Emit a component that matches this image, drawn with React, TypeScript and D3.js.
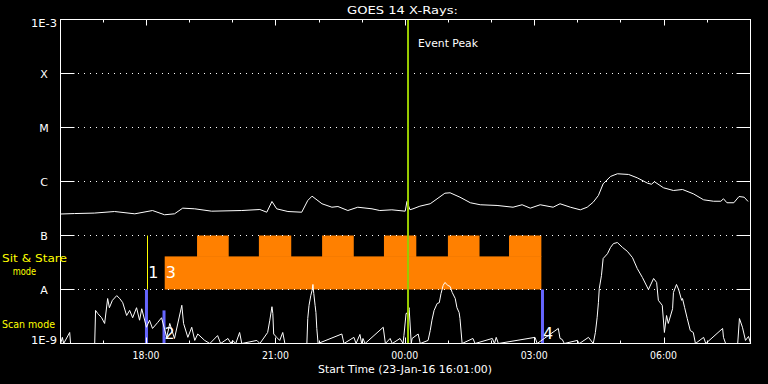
import React, { useEffect } from "react";
import * as d3 from "d3";

const W = 768;
const H = 384;

const startTime = Date.UTC(2016, 0, 23, 16, 1);
const endTime = Date.UTC(2016, 0, 24, 8, 1);
const dayStart = Date.UTC(2016, 0, 23, 0, 0);

const levelValues = [1e-9, 1e-8, 1e-7, 1e-6, 1e-5, 1e-4, 1e-3];
const levelLabels = ["1E-9", "A", "B", "C", "M", "X", "1E-3"];
const gridLevels = [1e-8, 1e-7, 1e-6, 1e-5, 1e-4];

// hours after 23-Jan-16 00:00 UT, flux in W/m^2
const longChannel: [number, number][] = [
  [16.02, 2.5e-7], [16.34, 2.55e-7], [16.8, 2.6e-7], [17.27, 2.78e-7], [17.74, 2.52e-7],
  [18.15, 2.9e-7], [18.43, 2.42e-7], [18.66, 2.52e-7], [18.85, 3.21e-7], [19.13, 3.12e-7],
  [19.52, 2.82e-7], [20.22, 2.9e-7], [20.64, 3.03e-7], [20.8, 2.7e-7], [20.92, 4.27e-7],
  [21.03, 3.12e-7], [21.29, 2.78e-7], [21.61, 2.7e-7], [21.75, 4.45e-7], [21.85, 5.35e-7],
  [22.08, 3.87e-7], [22.31, 3.34e-7], [22.45, 3.44e-7], [22.68, 2.9e-7], [22.91, 3.34e-7],
  [23.24, 3.12e-7], [23.42, 2.9e-7], [23.7, 2.99e-7], [24.01, 2.82e-7], [24.05, 4.27e-7],
  [24.12, 3.0e-7], [24.19, 3.12e-7], [24.35, 3.49e-7], [24.59, 3.87e-7], [24.77, 4.91e-7],
  [24.93, 6.07e-7], [25.05, 6.18e-7], [25.28, 5.12e-7], [25.52, 4.04e-7], [25.75, 3.71e-7],
  [26.14, 3.6e-7], [26.51, 3.34e-7], [26.72, 3.71e-7], [26.91, 3.21e-7], [27.14, 3.71e-7],
  [27.44, 3.34e-7], [27.6, 3.87e-7], [27.84, 3.34e-7], [28.07, 2.99e-7], [28.23, 3.34e-7],
  [28.37, 4.14e-7], [28.49, 5.51e-7], [28.6, 9.06e-7], [28.77, 1.24e-6], [28.93, 1.39e-6],
  [29.19, 1.35e-6], [29.39, 1.17e-6], [29.63, 9.3e-7], [29.72, 8.9e-7], [29.79, 9.9e-7],
  [30.0, 7.65e-7], [30.23, 6.81e-7], [30.44, 7.11e-7], [30.69, 5.92e-7], [30.93, 4.58e-7],
  [31.16, 4.31e-7], [31.33, 4.31e-7], [31.39, 4.79e-7], [31.47, 4.04e-7], [31.63, 4.04e-7],
  [31.75, 5.27e-7], [31.87, 5.12e-7], [31.96, 4.27e-7],
];

const shortChannel: [number, number][] = [
  [16.02, 1e-9], [16.06, 1.3e-9], [16.09, 1e-9], [16.23, 1.6e-9], [16.25, 1e-9], [16.81, 1e-9],
  [16.83, 4.1e-9], [16.88, 3.6e-9], [16.97, 3.0e-9], [17.04, 2.35e-9], [17.11, 6.8e-9],
  [17.15, 4.6e-9], [17.22, 6.3e-9], [17.32, 7.7e-9], [17.39, 6.8e-9], [17.46, 5.7e-9],
  [17.55, 3.3e-9], [17.62, 4.1e-9], [17.69, 3.0e-9], [17.78, 4.6e-9], [17.85, 2.7e-9],
  [17.9, 4.4e-9], [18.01, 2.0e-9], [18.08, 2.7e-9], [18.15, 1.9e-9], [18.27, 2.45e-9],
  [18.36, 3.0e-9], [18.48, 1.3e-9], [18.55, 2.35e-9], [18.66, 1.24e-9], [18.83, 5.1e-9],
  [18.87, 2.35e-9], [18.97, 1.3e-9], [19.06, 2.0e-9], [19.13, 1.14e-9], [19.2, 1.5e-9],
  [19.36, 1.14e-9], [19.48, 1e-9], [19.66, 1.4e-9], [19.73, 1e-9], [19.9, 1.24e-9],
  [19.97, 1e-9], [20.01, 1.14e-9], [20.08, 1e-9], [20.17, 1.6e-9], [20.22, 1e-9],
  [20.57, 1.14e-9], [20.64, 1e-9], [20.82, 1.6e-9], [20.87, 2.7e-9], [20.92, 4.8e-9],
  [20.94, 3.6e-9], [20.96, 1.5e-9], [21.03, 1.3e-9], [21.1, 1.14e-9], [21.17, 1.6e-9],
  [21.22, 1e-9], [21.73, 1e-9], [21.75, 2.9e-9], [21.78, 5.1e-9], [21.82, 7.7e-9],
  [21.85, 9.6e-9], [21.87, 1.24e-8], [21.89, 8.4e-9], [21.92, 5.1e-9], [21.94, 3.75e-9],
  [21.96, 1.9e-9], [21.99, 1e-9], [22.54, 1.5e-9], [22.59, 1e-9], [22.82, 1.3e-9],
  [22.87, 1e-9], [22.96, 1.47e-9], [23.0, 1e-9], [23.03, 1.24e-9], [23.08, 1e-9],
  [23.5, 2.0e-9], [23.55, 1e-9], [23.66, 1.24e-9], [23.71, 1e-9], [23.89, 1.24e-9],
  [23.96, 1e-9], [23.98, 1.4e-9], [24.03, 3.6e-9], [24.05, 3.6e-9], [24.1, 4.6e-9],
  [24.15, 1e-9], [24.17, 1.24e-9], [24.31, 1.5e-9], [24.36, 1e-9], [24.54, 1.14e-9],
  [24.59, 1.74e-9], [24.63, 2.7e-9], [24.68, 4.1e-9], [24.75, 5.5e-9], [24.8, 5.7e-9],
  [24.84, 8.4e-9], [24.89, 1.19e-8], [24.93, 1.35e-8], [25.0, 1.19e-8], [25.05, 1.14e-8],
  [25.1, 8.8e-9], [25.17, 6.8e-9], [25.21, 4.6e-9], [25.26, 3.75e-9], [25.28, 2.9e-9],
  [25.33, 1e-9], [25.58, 1.24e-9], [25.63, 1e-9], [26.03, 1.24e-9], [26.08, 1e-9],
  [26.12, 1.3e-9], [26.17, 1e-9], [27.02, 1.3e-9], [27.07, 1e-9], [27.56, 1.9e-9],
  [27.6, 1.24e-9], [27.65, 1.19e-9], [27.7, 1e-9], [28.0, 1.14e-9], [28.05, 1e-9],
  [28.26, 1.3e-9], [28.37, 1e-9], [28.42, 1.6e-9], [28.46, 3.0e-9], [28.49, 5.7e-9],
  [28.51, 1.04e-8], [28.56, 1.8e-8], [28.6, 3.75e-8], [28.7, 4.6e-8], [28.77, 6.0e-8],
  [28.84, 7.1e-8], [28.93, 7.4e-8], [29.05, 6.0e-8], [29.16, 5.1e-8], [29.28, 3.9e-8],
  [29.39, 2.45e-8], [29.51, 1.67e-8], [29.65, 1.0e-8], [29.77, 1.6e-8], [29.84, 1.35e-8],
  [29.88, 6.3e-9], [29.97, 5.1e-9], [30.02, 1.6e-9], [30.07, 3.3e-9], [30.11, 2.35e-9],
  [30.21, 4.4e-9], [30.23, 8.8e-9], [30.3, 1.24e-8], [30.35, 1.0e-8], [30.42, 6.3e-9],
  [30.44, 6.8e-9], [30.49, 4.6e-9], [30.55, 2.9e-9], [30.62, 1.74e-9], [30.69, 1.6e-9],
  [30.74, 1e-9], [30.93, 1.3e-9], [30.98, 1e-9], [31.37, 1.9e-9], [31.39, 1.3e-9],
  [31.44, 1e-9], [31.72, 1e-9], [31.76, 2.9e-9], [31.83, 2.0e-9], [31.9, 1.14e-9],
  [31.97, 1.35e-9], [32.02, 1e-9],
];

const eventPeakHour = 24.075;

// Sit & Stare mode
const sitStareStart = 18.433;
const sitStareEnd = 27.167;
const sitStareBlocks: [number, number][] = [
  [19.183, 19.917], [20.617, 21.367], [22.083, 22.817],
  [23.517, 24.267], [25.0, 25.733], [26.417, 27.167],
];
const modeLow = 1e-8;
const modeMid = 4.1e-8;
const modeHigh = 1e-7;

// Scan mode bars
const scanBars: { t: number; top: number }[] = [
  { t: 18.01, top: 1e-8 },
  { t: 18.417, top: 4.1e-9 },
  { t: 27.193, top: 1e-8 },
];
const yellowMarkerHour = 18.017;

const FONT = "'DejaVu Sans', sans-serif";

export default function App() {
  useEffect(() => {
    document.body.style.margin = "0";
    document.body.style.background = "#000";
  }, []);

  const toDate = (h: number) => new Date(dayStart + h * 3600e3);
  const x = d3.scaleUtc().domain([new Date(startTime), new Date(endTime)]).range([60.5, 750.5]);
  const y = d3.scaleLog().domain([1e-9, 1e-3]).range([343.5, 19.5]).clamp(true);
  const xh = (h: number) => x(toDate(h));

  const line = d3
    .line<[number, number]>()
    .x((d) => xh(d[0]))
    .y((d) => y(d[1]));

  const majorTicks = x.ticks(d3.utcHour.every(3)!);
  const minorTicks = x.ticks(d3.utcHour.every(1)!);
  const fmt = d3.utcFormat("%H:%M");

  const left = 60.5;
  const right = 750.5;
  const top = 19.5;
  const bottom = 343.5;

  const labelBaseline = (v: number, i: number) => {
    if (i === levelValues.length - 1) return y(v) + 7.5;
    if (i === 0) return y(v) + 0.5;
    return y(v) + 4.5;
  };

  return (
    <svg
      width={W}
      height={H}
      style={{ position: "absolute", left: 0, top: 0, display: "block", background: "#000" }}
      fontFamily={FONT}
    >
      <rect x={0} y={0} width={W} height={H} fill="#000" />

      {/* Sit & Stare orange */}
      <rect
        x={xh(sitStareStart)}
        y={y(modeMid)}
        width={xh(sitStareEnd) - xh(sitStareStart)}
        height={y(modeLow) - y(modeMid)}
        fill="#ff8000"
      />
      {sitStareBlocks.map((b, i) => (
        <rect
          key={i}
          x={xh(b[0])}
          y={y(modeHigh)}
          width={xh(b[1]) - xh(b[0])}
          height={y(modeMid) - y(modeHigh) + 0.5}
          fill="#ff8000"
        />
      ))}

      {/* grid dotted */}
      {gridLevels.map((v) => (
        <line
          key={v}
          x1={78}
          x2={736}
          y1={y(v)}
          y2={y(v)}
          stroke="#fff"
          strokeWidth={1}
          strokeDasharray="1 5"
        />
      ))}

      {/* scan bars */}
      {scanBars.map((b, i) => (
        <rect
          key={i}
          x={xh(b.t) - 1.5}
          y={y(b.top)}
          width={3}
          height={y(1e-9) - y(b.top)}
          fill="#6666ff"
        />
      ))}

      {/* yellow marker */}
      <line
        x1={Math.round(xh(yellowMarkerHour)) + 0.5}
        x2={Math.round(xh(yellowMarkerHour)) + 0.5}
        y1={y(modeHigh)}
        y2={y(modeLow)}
        stroke="#ffff00"
        strokeWidth={1}
      />

      {/* data */}
      <path d={line(longChannel) || ""} fill="none" stroke="#fff" strokeWidth={1} />
      <path d={line(shortChannel) || ""} fill="none" stroke="#fff" strokeWidth={1} />

      {/* event peak */}
      <line
        x1={xh(eventPeakHour)}
        x2={xh(eventPeakHour)}
        y1={top}
        y2={bottom}
        stroke="#99cc00"
        strokeWidth={2}
      />
      <text x={418} y={46.5} fill="#fff" fontSize={11} textLength={60} lengthAdjust="spacingAndGlyphs">
        Event Peak
      </text>

      {/* frame */}
      <rect x={left} y={top} width={right - left} height={bottom - top} fill="none" stroke="#fff" strokeWidth={1} />

      {/* y ticks */}
      {levelValues.map((v) => (
        <g key={v}>
          <line x1={left} x2={left + 14} y1={y(v)} y2={y(v)} stroke="#fff" />
          <line x1={right - 14} x2={right} y1={y(v)} y2={y(v)} stroke="#fff" />
        </g>
      ))}
      {levelValues.map((v, i) => {
        const isLong = levelLabels[i].length > 1;
        return (
          <text
            key={"l" + v}
            x={isLong ? 57 : 44}
            y={labelBaseline(v, i)}
            fill="#fff"
            fontSize={11}
            textAnchor={isLong ? "end" : "middle"}
            textLength={isLong ? 26 : undefined}
            lengthAdjust="spacingAndGlyphs"
          >
            {levelLabels[i]}
          </text>
        );
      })}

      {/* x ticks */}
      {minorTicks.map((t, i) => {
        const xx = Math.round(x(t)) + 0.5;
        const major = t.getUTCHours() % 3 === 0;
        const len = major ? 6 : 3;
        return (
          <g key={i}>
            <line x1={xx} x2={xx} y1={top} y2={top + len} stroke="#fff" />
            <line x1={xx} x2={xx} y1={bottom} y2={bottom - len} stroke="#fff" />
          </g>
        );
      })}
      {majorTicks.map((t, i) => (
        <text
          key={i}
          x={x(t)}
          y={359}
          fill="#fff"
          fontSize={11}
          textAnchor="middle"
          textLength={27}
          lengthAdjust="spacingAndGlyphs"
        >
          {fmt(t)}
        </text>
      ))}

      {/* titles */}
      <text x={402.5} y={13.5} fill="#fff" fontSize={11} textAnchor="middle" textLength={111} lengthAdjust="spacingAndGlyphs">
        GOES 14 X-Rays:
      </text>
      <text x={405} y={372.5} fill="#fff" fontSize={11} textAnchor="middle" textLength={174} lengthAdjust="spacingAndGlyphs">
        Start Time (23-Jan-16 16:01:00)
      </text>

      {/* mode labels */}
      <text x={2} y={262} fill="#ffff00" fontSize={11} textLength={65} lengthAdjust="spacingAndGlyphs">
        Sit &amp; Stare
      </text>
      <text x={12.7} y={275} fill="#ffff00" fontSize={11} textLength={23.5} lengthAdjust="spacingAndGlyphs">
        mode
      </text>
      <text x={2} y={328} fill="#ffff00" fontSize={11} textLength={53} lengthAdjust="spacingAndGlyphs">
        Scan mode
      </text>

      {/* markers */}
      <text x={xh(yellowMarkerHour) + 1.5} y={278} fill="#fff" fontSize={16}>1</text>
      <text x={xh(sitStareStart) + 1} y={278} fill="#fff" fontSize={16}>3</text>
      <text x={xh(scanBars[1].t) + 0.5} y={339} fill="#fff" fontSize={16}>2</text>
      <text x={xh(scanBars[2].t) + 0.5} y={338.5} fill="#fff" fontSize={16}>4</text>
    </svg>
  );
}
